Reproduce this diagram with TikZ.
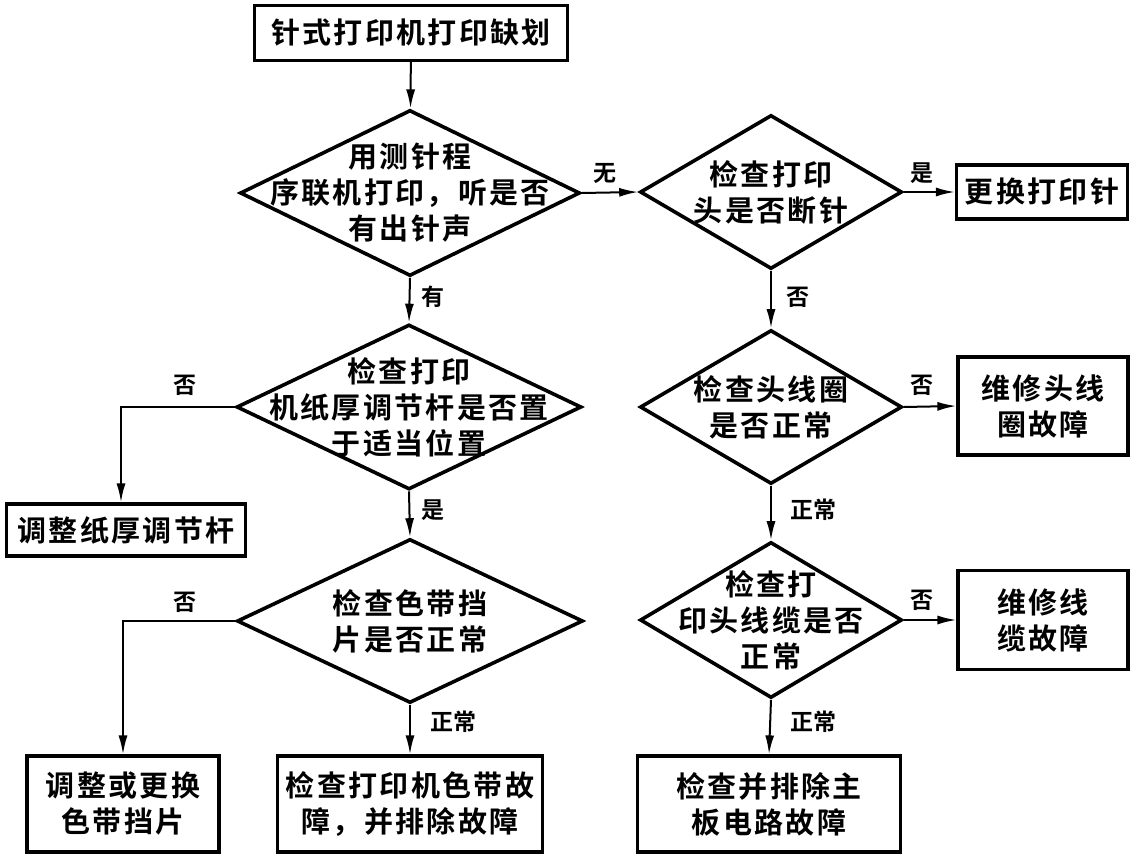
\documentclass[tikz,border=0pt]{standalone}
\usepackage{fontspec}
\newfontfamily\cjk{Noto Sans CJK SC}[BoldFont={Noto Sans CJK SC Bold}]
\usetikzlibrary{shapes.geometric,arrows.meta}
\tikzset{
  txt/.style={font=\cjk\bfseries\fontsize{29}{36}\selectfont\addfontfeature{LetterSpace=8}, align=center, inner sep=0pt},
  boxnode/.style={draw, line width=3.2pt, inner sep=0pt, txt},
  dianode/.style={draw, diamond, line width=3.6pt, inner sep=0pt},
  arr/.style={line width=2pt, -{Latex[length=19pt,width=9pt]}},
  lbl/.style={font=\cjk\bfseries\fontsize{23}{26}\selectfont, inner sep=0pt}
}
\begin{document}
\begin{tikzpicture}[x=1pt,y=-1pt]
\useasboundingbox (0,0) rectangle (1133,859);
% boxes
\node[boxnode, minimum width=313pt, minimum height=55pt] (start) at (411,33) {针式打印机打印缺划};
\node[boxnode, minimum width=171pt, minimum height=54pt] (pin) at (1042,192) {更换打印针};
\node[boxnode, minimum width=239pt, minimum height=52pt] (paper) at (126,530) {调整纸厚调节杆};
\node[boxnode, minimum width=192pt, minimum height=96pt] (plate) at (123,804) {调整或更换\\色带挡片};
\node[boxnode, minimum width=265pt, minimum height=96pt] (ribbon) at (410,804) {检查打印机色带故\\障，并排除故障};
\node[boxnode, minimum width=170pt, minimum height=98pt] (coil) at (1043,406) {维修头线\\圈故障};
\node[boxnode, minimum width=170pt, minimum height=99pt] (cable) at (1043,620) {维修线\\缆故障};
\node[boxnode, minimum width=263pt, minimum height=96pt] (mainb) at (769,804) {检查并排除主\\板电路故障};
% diamonds
\node[dianode, minimum width=340pt, minimum height=166pt,
  label={[txt]center:用测针程\\序联机打印，听是否\\有出针声}] (d1) at (410,193) {};
\node[dianode, minimum width=262pt, minimum height=154pt,
  label={[txt]center:检查打印\\头是否断针}] (d2) at (771,192) {};
\node[dianode, minimum width=345pt, minimum height=165pt,
  label={[txt]center:检查打印\\机纸厚调节杆是否置\\于适当位置}] (d3) at (409,407) {};
\node[dianode, minimum width=346pt, minimum height=164pt,
  label={[txt]center:检查色带挡\\片是否正常}] (d4) at (410,621) {};
\node[dianode, minimum width=262pt, minimum height=154pt,
  label={[txt]center:检查头线圈\\是否正常}] (d5) at (771,407) {};
\node[dianode, minimum width=262pt, minimum height=156pt,
  label={[txt]center:检查打\\印头线缆是否\\正常}] (d6) at (771,620) {};
% connectors
\draw[arr] (start) -- (d1);
\draw[arr] (d1.east) -- (d2.west);
\draw[arr] (d2.east) -- (pin.west);
\draw[arr] (d1.south) -- (d3.north);
\draw[arr] (d3.west) -| ([xshift=-5pt]paper.north);
\draw[arr] (d3.south) -- (d4.north);
\draw[arr] (d4.west) -| (plate.north);
\draw[arr] (d4.south) -- (ribbon.north);
\draw[arr] (d2.south) -- (d5.north);
\draw[arr] (d5.east) -- (coil.west);
\draw[arr] (d5.south) -- (d6.north);
\draw[arr] (d6.east) -- (cable.west);
\draw[arr] (d6.south) -- (mainb.north);
% labels
\node[lbl] (l1) at (605,173) {无};
\node[lbl] (l2) at (922,173) {是};
\node[lbl] (l3) at (433,297) {有};
\node[lbl] (l4) at (185,385) {否};
\node[lbl] (l5) at (433,510) {是};
\node[lbl] (l6) at (185,602) {否};
\node[lbl] (l7) at (453,722) {正常};
\node[lbl] (l8) at (798,297) {否};
\node[lbl] (l9) at (922,385) {否};
\node[lbl] (l10) at (813,510) {正常};
\node[lbl] (l11) at (922,600) {否};
\node[lbl] (l12) at (813,722) {正常};
\end{tikzpicture}
\end{document}
